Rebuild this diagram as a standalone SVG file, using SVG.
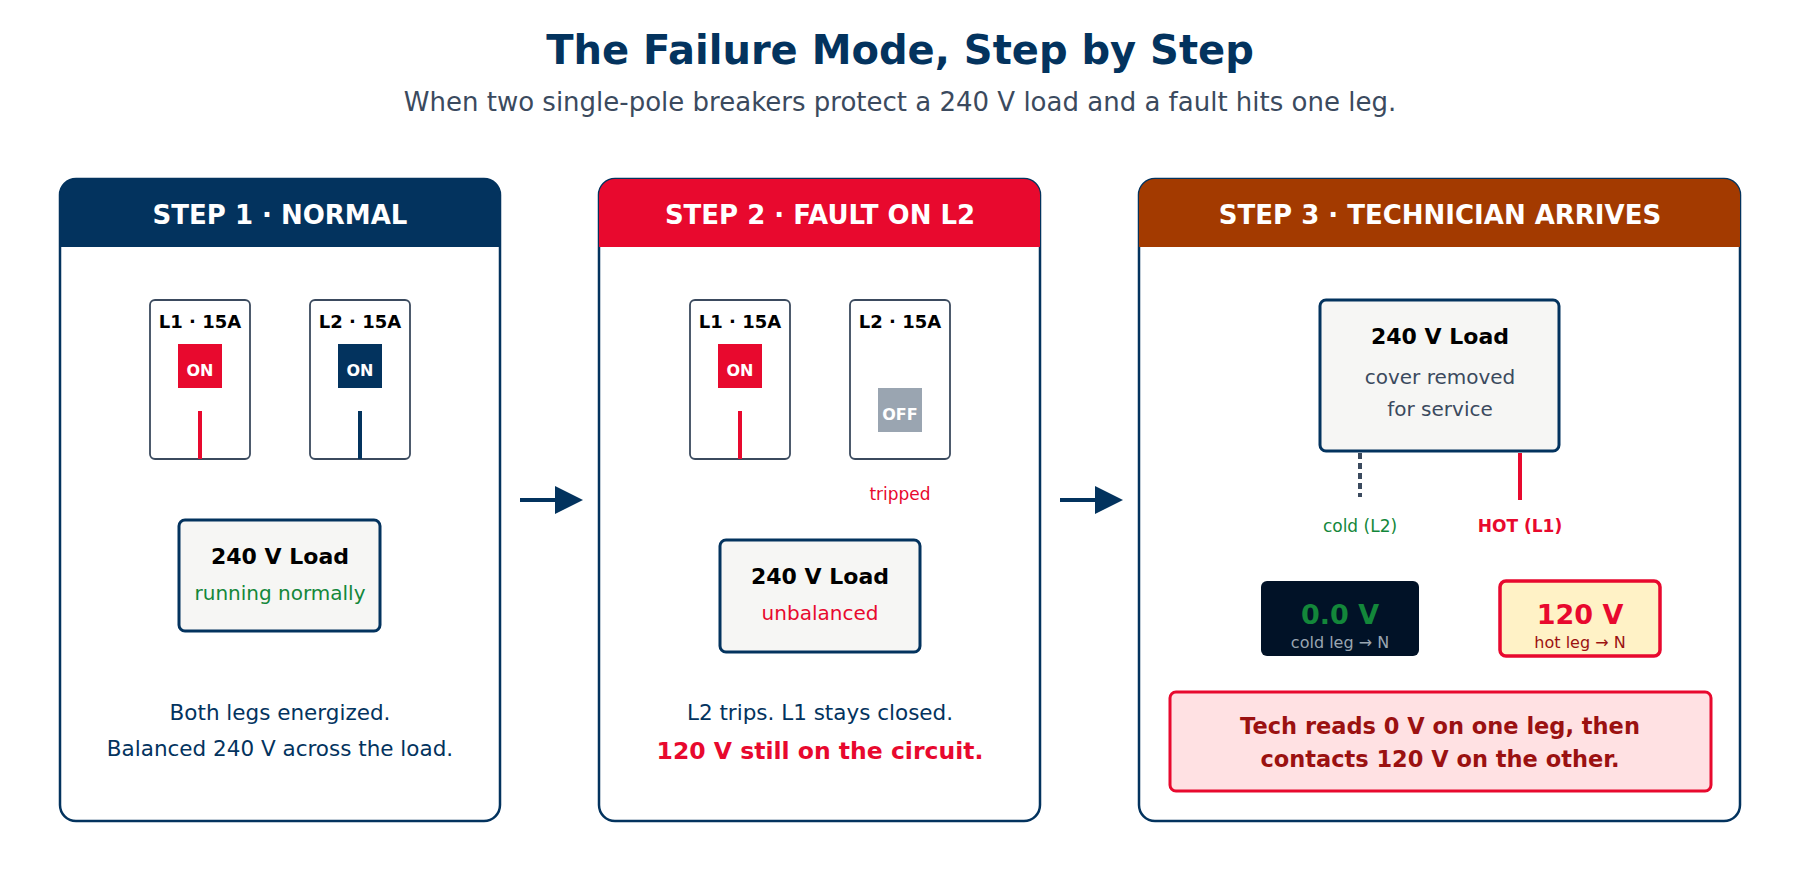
<svg xmlns="http://www.w3.org/2000/svg" width="1800" height="886" viewBox="0 0 1800 886">
<style>
text{font-family:"DejaVu Sans",sans-serif;text-anchor:middle}
.panel{fill:#fff;stroke:#03335e;stroke-width:2.5}
.hd{fill:#fff;font-size:26px;font-weight:bold}
.brk{fill:#fff;stroke:#3b4a5e;stroke-width:1.8}
.bl{font-size:18px;font-weight:bold;fill:#000}
.sw{fill:#fff;font-size:16px;font-weight:bold}
.load{fill:#f6f6f4;stroke:#03335e;stroke-width:3}
.lt{font-size:22px;font-weight:bold;fill:#000}
.body{font-size:21.5px;fill:#03335e}
</style>
<rect width="1800" height="886" fill="#fff"/>
<text x="900" y="64" font-size="40" font-weight="bold" fill="#03335e">The Failure Mode, Step by Step</text>
<text x="900" y="111" font-size="26" fill="#3b4a5e">When two single-pole breakers protect a 240 V load and a fault hits one leg.</text>
<g id="step1">
<rect class="panel" x="60" y="179" width="440" height="642" rx="16"/>
<path d="M60 247V195a16 16 0 0 1 16-16h408a16 16 0 0 1 16 16v52z" fill="#03335e"/>
<text class="hd" x="280" y="224">STEP 1 · NORMAL</text>
<rect class="brk" x="150" y="300" width="100" height="159" rx="5"/>
<text class="bl" x="200" y="328">L1 · 15A</text>
<rect x="178" y="344" width="44" height="44" fill="#e8092e"/><text class="sw" x="200" y="376">ON</text>
<line x1="200" y1="411" x2="200" y2="459" stroke="#e8092e" stroke-width="4"/>
<rect class="brk" x="310" y="300" width="100" height="159" rx="5"/>
<text class="bl" x="360" y="328">L2 · 15A</text>
<rect x="338" y="344" width="44" height="44" fill="#03335e"/><text class="sw" x="360" y="376">ON</text>
<line x1="360" y1="411" x2="360" y2="459" stroke="#03335e" stroke-width="4"/>
<rect class="load" x="179" y="520" width="201" height="111" rx="6"/>
<text class="lt" x="280" y="564">240 V Load</text>
<text x="280" y="600" font-size="20" fill="#13873a">running normally</text>
<text class="body" x="280" y="720">Both legs energized.</text>
<text class="body" x="280" y="756">Balanced 240 V across the load.</text>
</g>
<g id="step2">
<rect class="panel" x="599" y="179" width="441" height="642" rx="16"/>
<path d="M599 247V195a16 16 0 0 1 16-16h409a16 16 0 0 1 16 16v52z" fill="#e8092e"/>
<text class="hd" x="820" y="224">STEP 2 · FAULT ON L2</text>
<rect class="brk" x="690" y="300" width="100" height="159" rx="5"/>
<text class="bl" x="740" y="328">L1 · 15A</text>
<rect x="718" y="344" width="44" height="44" fill="#e8092e"/><text class="sw" x="740" y="376">ON</text>
<line x1="740" y1="411" x2="740" y2="459" stroke="#e8092e" stroke-width="4"/>
<rect class="brk" x="850" y="300" width="100" height="159" rx="5"/>
<text class="bl" x="900" y="328">L2 · 15A</text>
<rect x="878" y="388" width="44" height="44" fill="#9aa5b1"/><text class="sw" x="900" y="420">OFF</text>
<text x="900" y="500" font-size="17" fill="#e8092e">tripped</text>
<rect class="load" x="720" y="540" width="200" height="112" rx="6"/>
<text class="lt" x="820" y="584">240 V Load</text>
<text x="820" y="620" font-size="20" fill="#e8092e">unbalanced</text>
<text class="body" x="820" y="720">L2 trips. L1 stays closed.</text>
<text x="820" y="759" font-size="23.5" font-weight="bold" fill="#e8092e">120 V still on the circuit.</text>
</g>
<g id="step3">
<rect class="panel" x="1139" y="179" width="601" height="642" rx="16"/>
<path d="M1139 247V195a16 16 0 0 1 16-16h569a16 16 0 0 1 16 16v52z" fill="#a33a00"/>
<text class="hd" x="1440" y="224">STEP 3 · TECHNICIAN ARRIVES</text>
<rect class="load" x="1320" y="300" width="239" height="151" rx="6"/>
<text class="lt" x="1440" y="344">240 V Load</text>
<text x="1440" y="384" font-size="20" fill="#3b4a5e">cover removed</text>
<text x="1440" y="416" font-size="20" fill="#3b4a5e">for service</text>
<line x1="1360" y1="453" x2="1360" y2="497" stroke="#3b4a5e" stroke-width="4" stroke-dasharray="6,4"/>
<line x1="1520" y1="453" x2="1520" y2="500" stroke="#e8092e" stroke-width="4"/>
<text x="1360" y="532" font-size="17" fill="#13873a">cold (L2)</text>
<text x="1520" y="532" font-size="17" font-weight="bold" fill="#e8092e">HOT (L1)</text>
<rect x="1261" y="581" width="158" height="75" rx="6" fill="#011227"/>
<text x="1340" y="624" font-size="27" font-weight="bold" fill="#13873a">0.0 V</text>
<text x="1340" y="648" font-size="16" fill="#9aa5b1">cold leg → N</text>
<rect x="1500" y="581" width="160" height="75" rx="6" fill="#fff2c6" stroke="#e8092e" stroke-width="3.5"/>
<text x="1580" y="624" font-size="27" font-weight="bold" fill="#e8092e">120 V</text>
<text x="1580" y="648" font-size="16" fill="#9b1111">hot leg → N</text>
<rect x="1170" y="692" width="541" height="99" rx="6" fill="#ffe1e3" stroke="#e8092e" stroke-width="3"/>
<text x="1440" y="734" font-size="22.5" font-weight="bold" fill="#9b1111">Tech reads 0 V on one leg, then</text>
<text x="1440" y="767" font-size="22.5" font-weight="bold" fill="#9b1111">contacts 120 V on the other.</text>
</g>
<g id="connectors" fill="#03335e" stroke="#03335e">
<line x1="520" y1="500" x2="556" y2="500" stroke-width="4"/>
<polygon points="555,486 583,500 555,514" stroke="none"/>
<line x1="1060" y1="500" x2="1096" y2="500" stroke-width="4"/>
<polygon points="1095,486 1123,500 1095,514" stroke="none"/>
</g>
</svg>
